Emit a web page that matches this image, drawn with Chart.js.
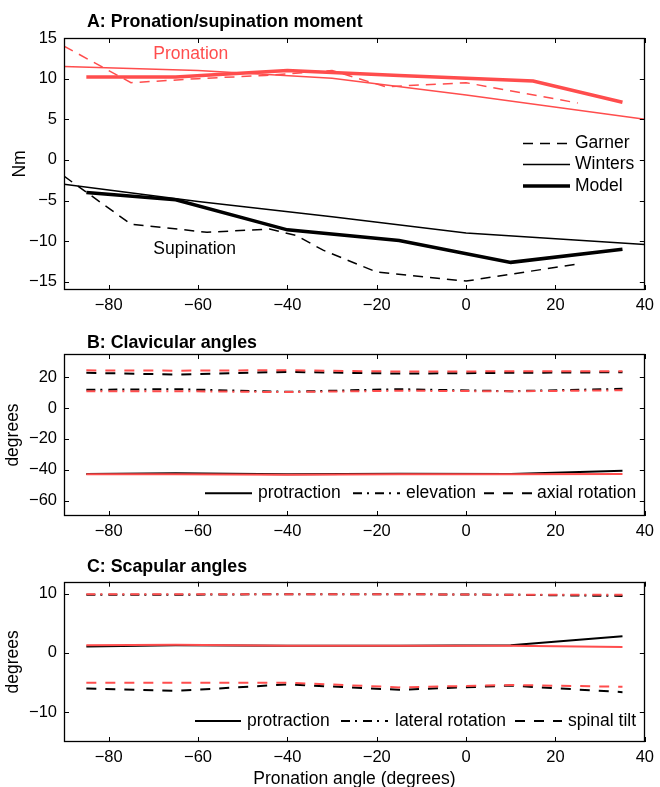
<!DOCTYPE html>
<html>
<head>
<meta charset="utf-8">
<script src="https://cdn.jsdelivr.net/npm/chart.js@4.4.1/dist/chart.umd.min.js"></script>
<style>
  body { margin: 0; background: #fff; width: 660px; height: 787px; position: relative; overflow: hidden; }
  canvas { position: absolute; left: 0; }
</style>
</head>
<body>
<canvas id="pa" width="660" height="320" style="top:0px"></canvas>
<canvas id="pb" width="660" height="230" style="top:318px"></canvas>
<canvas id="pc" width="660" height="250" style="top:540px"></canvas>
<script>
// ---- data ----
var xTicks = [-80, -60, -40, -20, 0, 20, 40];

// A: pronation/supination moment (Nm)
var yTicksA = [-15, -10, -5, 0, 5, 10, 15];
var garnerProX = [-90, -75, -60, -45, -30, -18, 0, 25];
var garnerPro = [14, 9.5, 10.0, 10.4, 11.0, 9.0, 9.5, 7.0];
var garnerSupX = [-90, -75, -58, -44, -38, -32, -20, 0, 25];
var garnerSup = [-2, -7.9, -8.9, -8.5, -9.3, -11.1, -13.8, -14.9, -12.8];
var wintersX = [-90, -60, -30, 0, 40];
var wintersPro = [11.5, 11.0, 10.05, 8.0, 5.0];
var wintersSup = [-3.0, -5.1, -7.0, -9.0, -10.4];
var modelProX = [-85, -65, -40, -15, 15, 35];
var modelPro = [10.2, 10.2, 11.0, 10.4, 9.7, 7.1];
var modelSupX = [-85, -65, -40, -15, 10, 35];
var modelSup = [-4.0, -4.9, -8.6, -9.9, -12.6, -11.0];

// B and C: model angles (degrees), black = supination, red = pronation
var angleX = [-85, -65, -40, -15, 10, 35];
var yTicksB = [-60, -40, -20, 0, 20];
var clavProtrSup = [-42.8, -42.3, -43.0, -42.6, -42.8, -40.7];
var clavProtrPro = [-42.9, -42.9, -43.3, -42.9, -43.0, -42.8];
var clavElevSup = [11.8, 12.2, 10.5, 12.2, 10.9, 12.4];
var clavElevPro = [10.8, 10.9, 10.3, 11.2, 10.8, 11.5];
var clavAxialSup = [22.8, 21.7, 23.4, 22.3, 22.8, 23.2];
var clavAxialPro = [24.4, 24.2, 24.5, 23.6, 23.8, 23.9];

var yTicksC = [-10, 0, 10];
var scapProtrSup = [1.1, 1.3, 1.2, 1.2, 1.3, 2.8];
var scapProtrPro = [1.3, 1.4, 1.2, 1.2, 1.2, 1.0];
var scapLatSup = [9.8, 9.8, 9.9, 9.9, 9.8, 9.6];
var scapLatPro = [9.9, 9.9, 9.9, 9.9, 9.8, 9.8];
var scapTiltSup = [-6.0, -6.4, -5.3, -6.2, -5.5, -6.6];
var scapTiltPro = [-5.0, -5.0, -5.0, -5.8, -5.4, -5.7];

// ---- styles ----
var RED = 'rgb(255,77,77)';
var BLACK = '#000';
var FONT = "'Liberation Sans', Arial, Helvetica, sans-serif";
var DASH = [10, 7];
var DASH2 = [10, 9];
var DASHDOT = [9, 5, 2, 6];

function pts(xs, ys) {
  return xs.map(function (x, i) { return { x: x, y: ys[i] }; });
}

function line(xs, ys, color, width, dash) {
  return {
    data: pts(xs, ys),
    borderColor: color,
    borderWidth: width,
    borderDash: dash || [],
    pointRadius: 0,
    fill: false,
    tension: 0,
    order: color === RED ? 0 : 1
  };
}

function minus(v) {
  return String(v).replace('-', '\u2212');
}

// box with inward ticks like the original plot
var matlabAxes = {
  id: 'matlabAxes',
  afterDatasetsDraw: function (chart) {
    var a = chart.chartArea, ctx = chart.ctx;
    var sx = chart.scales.x, sy = chart.scales.y, L = 5;
    ctx.save();
    ctx.setLineDash([]);
    ctx.strokeStyle = '#000';
    ctx.lineWidth = 1;
    ctx.beginPath();
    sx.ticks.forEach(function (t) {
      var p = Math.round(sx.getPixelForValue(t.value)) + 0.5;
      ctx.moveTo(p, a.bottom); ctx.lineTo(p, a.bottom - L);
      ctx.moveTo(p, a.top); ctx.lineTo(p, a.top + L);
    });
    sy.ticks.forEach(function (t) {
      var p = Math.round(sy.getPixelForValue(t.value)) + 0.5;
      ctx.moveTo(a.left, p); ctx.lineTo(a.left + L, p);
      ctx.moveTo(a.right, p); ctx.lineTo(a.right - L, p);
    });
    ctx.stroke();
    ctx.lineWidth = 1.3;
    ctx.strokeRect(Math.round(a.left) + 0.5, Math.round(a.top) + 0.5,
      Math.round(a.right - a.left) - 1, Math.round(a.bottom - a.top) - 1);
    ctx.restore();
  }
};

// panel title, text notes and legend
var panelText = {
  id: 'panelText',
  afterDraw: function (chart, args, o) {
    var ctx = chart.ctx;
    ctx.save();
    ctx.setLineDash([]);
    ctx.fillStyle = '#000';
    ctx.font = 'bold 17.8px ' + FONT;
    ctx.textBaseline = 'alphabetic';
    ctx.textAlign = 'left';
    ctx.fillText(o.title, o.titleX, o.titleY);
    ctx.font = '17.5px ' + FONT;
    ctx.textBaseline = 'middle';
    (o.notes || []).forEach(function (n) {
      ctx.fillStyle = n.color;
      ctx.fillText(n.text, chart.scales.x.getPixelForValue(n.x), chart.scales.y.getPixelForValue(n.y));
    });
    (o.legend || []).forEach(function (it) {
      ctx.strokeStyle = '#000';
      ctx.lineWidth = it.width;
      ctx.setLineDash(it.dash);
      ctx.beginPath();
      ctx.moveTo(it.x1, it.y);
      ctx.lineTo(it.x2, it.y);
      ctx.stroke();
      ctx.setLineDash([]);
      ctx.fillStyle = '#000';
      ctx.fillText(it.text, it.tx, it.y);
    });
    ctx.restore();
  }
};

function makeChart(id, cfg) {
  var canvas = document.getElementById(id);
  var H = canvas.height;
  return new Chart(canvas, {
    type: 'line',
    data: { datasets: cfg.datasets },
    options: {
      responsive: false,
      animation: false,
      devicePixelRatio: 1,
      layout: { padding: { top: cfg.top, right: 10, left: 0, bottom: 0 } },
      plugins: {
        legend: { display: false },
        tooltip: { enabled: false },
        panelText: cfg.text
      },
      scales: {
        x: {
          type: 'linear',
          min: -90,
          max: 40,
          grid: { display: false, drawTicks: false },
          border: { display: false },
          afterBuildTicks: function (s) { s.ticks = xTicks.map(function (v) { return { value: v }; }); },
          afterFit: function (s) { s.height = H - cfg.bottom; },
          ticks: {
            color: '#000',
            padding: 6,
            maxRotation: 0,
            font: { family: FONT, size: 16.5 },
            callback: minus
          },
          title: {
            display: !!cfg.xTitle,
            text: cfg.xTitle || '',
            color: '#000',
            padding: 0,
            font: { family: FONT, size: 17.5 }
          }
        },
        y: {
          type: 'linear',
          min: cfg.yMin,
          max: cfg.yMax,
          grid: { display: false, drawTicks: false },
          border: { display: false },
          afterBuildTicks: function (s) { s.ticks = cfg.yTicks.map(function (v) { return { value: v }; }); },
          afterFit: function (s) { s.width = 64; },
          ticks: {
            color: '#000',
            padding: 7,
            font: { family: FONT, size: 16.5 },
            callback: minus
          },
          title: {
            display: true,
            text: cfg.yTitle,
            color: '#000',
            padding: { top: cfg.yTitlePad, bottom: 0 },
            font: { family: FONT, size: 17.5 }
          }
        }
      }
    },
    plugins: [matlabAxes, panelText]
  });
}

makeChart('pa', {
  top: 38, bottom: 290, yMin: -16, yMax: 15, yTicks: yTicksA, yTitle: 'Nm', yTitlePad: 9.5,
  datasets: [
    line(garnerProX, garnerPro, RED, 1.5, DASH),
    line(wintersX, wintersPro, RED, 1.5),
    line(modelProX, modelPro, RED, 3.5),
    line(garnerSupX, garnerSup, BLACK, 1.5, DASH),
    line(wintersX, wintersSup, BLACK, 1.5),
    line(modelSupX, modelSup, BLACK, 3.5)
  ],
  text: {
    title: 'A: Pronation/supination moment', titleX: 87, titleY: 27,
    notes: [
      { text: 'Pronation', x: -70, y: 13, color: RED },
      { text: 'Supination', x: -70, y: -11, color: BLACK }
    ],
    legend: [
      { text: 'Garner', x1: 523, x2: 570, tx: 575, y: 143.5, width: 1.5, dash: DASH },
      { text: 'Winters', x1: 523, x2: 570, tx: 575, y: 164.5, width: 1.5, dash: [] },
      { text: 'Model', x1: 523, x2: 570, tx: 575, y: 186, width: 3.5, dash: [] }
    ]
  }
});

makeChart('pb', {
  top: 36, bottom: 198, yMin: -70, yMax: 35, yTicks: yTicksB, yTitle: 'degrees', yTitlePad: 2.5,
  datasets: [
    line(angleX, clavProtrPro, RED, 2),
    line(angleX, clavElevPro, RED, 2, DASHDOT),
    line(angleX, clavAxialPro, RED, 2, DASH2),
    line(angleX, clavProtrSup, BLACK, 2),
    line(angleX, clavElevSup, BLACK, 2, DASHDOT),
    line(angleX, clavAxialSup, BLACK, 2, DASH2)
  ],
  text: {
    title: 'B: Clavicular angles', titleX: 87, titleY: 30.3,
    legend: [
      { text: 'protraction', x1: 205, x2: 252, tx: 258, y: 175.3, width: 2, dash: [] },
      { text: 'elevation', x1: 353, x2: 400, tx: 406, y: 175.3, width: 2, dash: DASHDOT },
      { text: 'axial rotation', x1: 484, x2: 532, tx: 537, y: 175.3, width: 2, dash: DASH2 }
    ]
  }
});

makeChart('pc', {
  top: 41.7, bottom: 202, yMin: -15, yMax: 12, yTicks: yTicksC, yTitle: 'degrees', yTitlePad: 2.5,
  xTitle: 'Pronation angle (degrees)',
  datasets: [
    line(angleX, scapProtrPro, RED, 2),
    line(angleX, scapLatPro, RED, 2, DASHDOT),
    line(angleX, scapTiltPro, RED, 2, DASH2),
    line(angleX, scapProtrSup, BLACK, 2),
    line(angleX, scapLatSup, BLACK, 2, DASHDOT),
    line(angleX, scapTiltSup, BLACK, 2, DASH2)
  ],
  text: {
    title: 'C: Scapular angles', titleX: 87, titleY: 32.3,
    legend: [
      { text: 'protraction', x1: 195, x2: 241, tx: 247, y: 181, width: 2, dash: [] },
      { text: 'lateral rotation', x1: 341, x2: 388, tx: 395, y: 181, width: 2, dash: DASHDOT },
      { text: 'spinal tilt', x1: 515, x2: 562, tx: 568, y: 181, width: 2, dash: DASH2 }
    ]
  }
});
</script>
</body>
</html>
